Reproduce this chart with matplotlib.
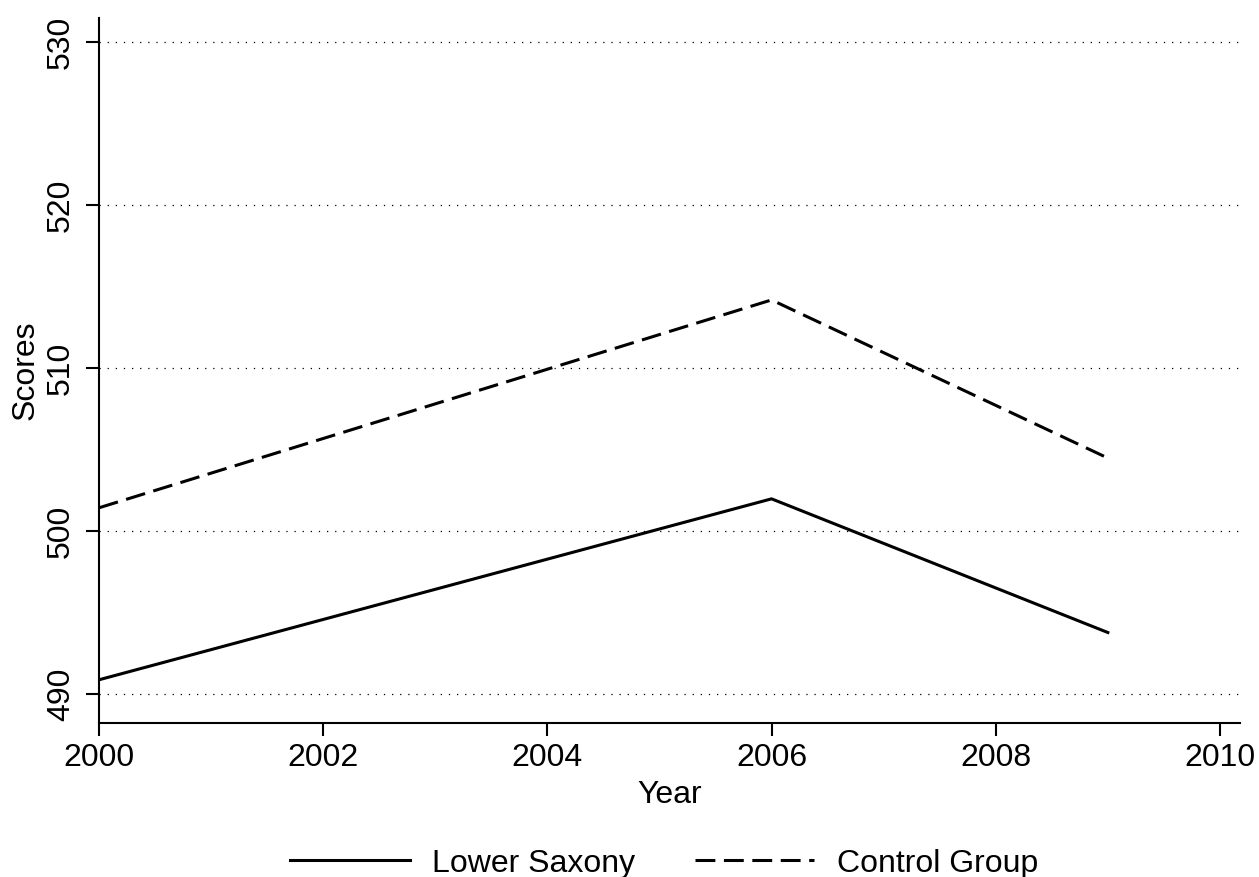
import matplotlib.pyplot as plt

plt.rcParams['font.family'] = ['Liberation Sans', 'DejaVu Sans']

years = [2000, 2006, 2009]
lower_saxony = [490.9, 502.0, 493.8]
control_group = [501.45, 514.2, 504.5]

fig = plt.figure(figsize=(12.59, 8.77), dpi=100)
ax = fig.add_axes([0.0786, 0.1756, 0.9064, 0.804])

ax.plot(years, lower_saxony, color='black', linewidth=2.2, linestyle='-', label='Lower Saxony')
ax.plot(years, control_group, color='black', linewidth=2.2, linestyle=(0, (6.5, 2.8)), label='Control Group')

ax.set_xlim(2000, 2010.18)
ax.set_ylim(488.25, 531.5)
ax.set_xticks([2000, 2002, 2004, 2006, 2008, 2010])
ax.set_yticks([490, 500, 510, 520, 530])
ax.grid(axis='y', color='black', linestyle=(0, (1, 5.5)), linewidth=0.9)
for s in ['top', 'right']:
    ax.spines[s].set_visible(False)
for s in ['left', 'bottom']:
    ax.spines[s].set_linewidth(1.5)
ax.tick_params(axis='both', labelsize=23, length=9.5, width=1.5)
ax.tick_params(axis='x', pad=5)
ax.tick_params(axis='y', labelrotation=90, pad=7)
for lab in ax.get_yticklabels():
    lab.set_va('center')
ax.set_xlabel('Year', fontsize=23, labelpad=5)
ax.set_ylabel('Scores', fontsize=23, labelpad=4)

fig.legend(loc='center', bbox_to_anchor=(0.5275, 0.0152), ncol=2, frameon=False,
           fontsize=23, handlelength=3.75, columnspacing=1.85, handletextpad=0.7,
           borderpad=0, borderaxespad=0)

fig.savefig('out.png', dpi=100)
